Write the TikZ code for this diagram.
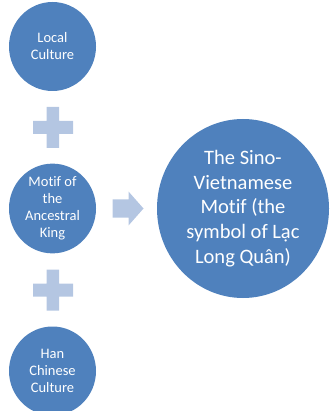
\documentclass[tikz,border=0pt]{standalone}
\usepackage{fontspec}
\usetikzlibrary{shapes.geometric}
\setmainfont[Ligatures={NoCommon}]{Carlito}
\definecolor{circblue}{HTML}{4F81BD}
\definecolor{lightblue}{HTML}{B4C6E2}
\begin{document}
\begin{tikzpicture}[x=1pt,y=-1pt,
  smallcirc/.style={ellipse,fill=circblue,draw=none,minimum width=87pt,minimum height=89pt,inner sep=0pt,
    text=white,align=center,font=\fontsize{14.5}{17}\selectfont},
  bigcirc/.style={ellipse,fill=circblue,draw=none,minimum width=172pt,minimum height=179pt,inner sep=0pt,
    text=white,align=center,font=\fontsize{20.5}{24.6}\selectfont},
  sym/.style={fill=lightblue,draw=none}]
\useasboundingbox (0,0) rectangle (329,411);
\clip (0,0) rectangle (329,411);
\node[smallcirc] (local) at (52.5,46.5) {Local\\Culture};
\node[smallcirc] (king) at (52.5,208.5) {Motif of\\the\\Ancestral\\King};
\node[smallcirc] (han) at (52.5,371) {Han\\Chinese\\Culture};
\node[bigcirc] (sino) at (243,208.5) {The Sino-\\Vietnamese\\Motif (the\\symbol of Lạc\\Long Quân)};
% plus signs
\fill[sym] (46.5,107) -- (59,107) -- (59,121) -- (73,121) -- (73,134) -- (59,134) -- (59,148) -- (46.5,148) -- (46.5,134) -- (33,134) -- (33,121) -- (46.5,121) -- cycle;
\fill[sym] (46.5,269.5) -- (59,269.5) -- (59,283.5) -- (73,283.5) -- (73,296.5) -- (59,296.5) -- (59,310.5) -- (46.5,310.5) -- (46.5,296.5) -- (33,296.5) -- (33,283.5) -- (46.5,283.5) -- cycle;
% arrow
\fill[sym] (112.5,199.5) -- (128.5,199.5) -- (128.5,191.5) -- (143.5,208.5) -- (128.5,225.5) -- (128.5,217.5) -- (112.5,217.5) -- cycle;
\end{tikzpicture}
\end{document}
